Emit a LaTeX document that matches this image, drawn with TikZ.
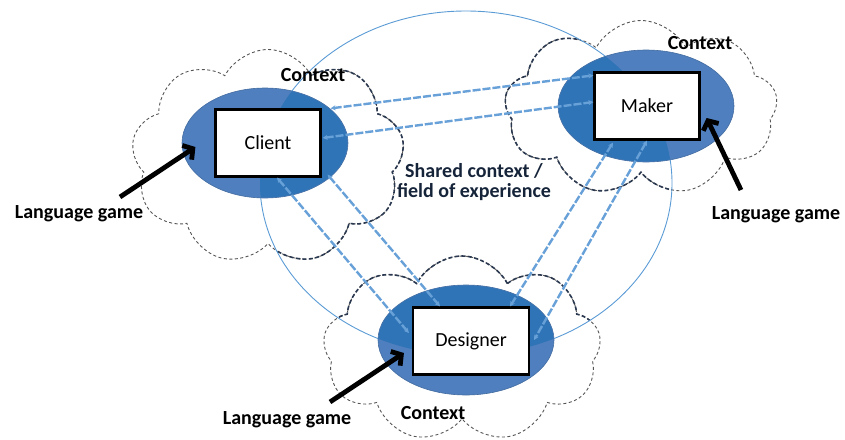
\documentclass[tikz,border=0pt]{standalone}
\usepackage{fontspec}
\setmainfont{Carlito}
\usetikzlibrary{shapes.geometric,shapes.symbols,arrows.meta}
\definecolor{ovlite}{HTML}{4F7FBE}
\definecolor{ovdark}{HTML}{2E74B6}
\definecolor{ringblue}{HTML}{5B9BD5}
\definecolor{linkblue}{HTML}{68A0D8}
\definecolor{cloudgray}{HTML}{555555}
\definecolor{cloudnavy}{HTML}{2A3850}
\definecolor{sharedink}{HTML}{16243A}
\tikzset{
  ctxcloud/.style={cloud, cloud puffs=9, cloud puff arc=125, cloud ignores aspect,
    inner sep=0pt, draw=cloudgray, line width=0.9pt, dash pattern=on 3pt off 2.5pt},
  ctxcloudin/.style={ctxcloud, draw=cloudnavy, line width=1.6pt, dash pattern=on 4pt off 2.5pt},
  ovalnode/.style={ellipse, inner sep=0pt, fill=ovlite, draw=ovlite!85!black, line width=0.6pt},
  boxnode/.style={rectangle, inner sep=0pt, fill=white, draw=black, line width=2.2pt},
  link/.style={draw=linkblue, line width=2.4pt, dash pattern=on 8pt off 2pt,
    {Stealth[length=5pt,width=5pt]}-{Stealth[length=5pt,width=5pt]}},
  gamearrow/.style={draw=black, line width=4.8pt, -{Straight Barb[length=7pt,width=17pt]}},
  lbl/.style={font=\fontsize{20}{20}\selectfont\bfseries},
}
\begin{document}
\begin{tikzpicture}[x=1pt,y=-1pt,font=\fontsize{20}{20}\selectfont]
\useasboundingbox (0,0) rectangle (845,439);

% context clouds, outside the shared field
\node[ctxcloud, minimum width=273pt, minimum height=215pt] (cliC) at (268,157) {};
\node[ctxcloud, minimum width=273pt, minimum height=175pt] (makC) at (641,108) {};
\node[ctxcloud, minimum width=278pt, minimum height=186pt] (desC) at (462,349) {};

% the same clouds, darker inside the shared field
\begin{scope}
  \clip (466,183) ellipse [x radius=206pt, y radius=172pt];
  \node[ctxcloudin, minimum width=273pt, minimum height=215pt] (cliCi) at (268,157) {};
  \node[ctxcloudin, minimum width=273pt, minimum height=175pt] (makCi) at (641,108) {};
  \node[ctxcloudin, minimum width=278pt, minimum height=186pt] (desCi) at (462,349) {};
\end{scope}

% shared context / field of experience
\node[ellipse, draw=ringblue, line width=0.9pt, inner sep=0pt,
      minimum width=412pt, minimum height=344pt] (shared) at (466,183) {};

% the three parties
\node[ovalnode, minimum width=166pt, minimum height=110pt] (cliO) at (265,143) {};
\node[ovalnode, minimum width=176pt, minimum height=112pt] (makO) at (646,106) {};
\node[ovalnode, minimum width=176pt, minimum height=110pt] (desO) at (466,340) {};
\begin{scope}
  \clip (466,183) ellipse [x radius=206pt, y radius=172pt];
  \fill[ovdark] (cliO.center) ellipse [x radius=82.5pt, y radius=54.5pt];
  \fill[ovdark] (makO.center) ellipse [x radius=87.5pt, y radius=55.5pt];
  \fill[ovdark] (desO.center) ellipse [x radius=87.5pt, y radius=54.5pt];
\end{scope}

\node[boxnode, minimum width=105pt, minimum height=67pt] (client) at (268,143) {Client};
\node[boxnode, minimum width=105pt, minimum height=67pt] (maker) at (647,106) {Maker};
\node[boxnode, minimum width=116pt, minimum height=67pt] (designer) at (471,341) {Designer};

% communication links
\draw[link] ([shift={(9,0)}]client.north east) -- ([shift={(0,4)}]maker.north west);
\draw[link] ([shift={(1,-5)}]client.east) -- ([shift={(0,-4)}]maker.west);
\draw[link] ([shift={(9,0)}]client.south) -- ([shift={(-3,-8)}]designer.west);
\draw[link] ([shift={(6,-3)}]client.south east) -- ([shift={(-31,0)}]designer.north);
\draw[link] ([shift={(-34,2)}]maker.south) -- ([shift={(39,0)}]designer.north);
\draw[link] (maker.south) -- ([shift={(4,-1)}]designer.east);

% language games
\coordinate (lgL) at (120,197);
\coordinate (lgR) at (741,190);
\coordinate (lgB) at (330,402);
\draw[gamearrow] (lgL) -- ([shift={(-19,4)}]client.west);
\draw[gamearrow] (lgR) -- ([shift={(6,12)}]maker.east);
\draw[gamearrow] (lgB) -- ([shift={(-8,12)}]designer.west);

\node[lbl] (lgLt) at (79,214) {Language game};
\node[lbl] (lgRt) at (776,215) {Language game};
\node[lbl] (lgBt) at (287,420) {Language game};

\node[lbl] (ctxC) at (313,75) {Context};
\node[lbl] (ctxM) at (700,43) {Context};
\node[lbl] (ctxD) at (433,413) {Context};

\node[lbl, align=center, text=sharedink] (sharedT) at (474,182) {Shared context /\\field of experience};
\end{tikzpicture}
\end{document}
